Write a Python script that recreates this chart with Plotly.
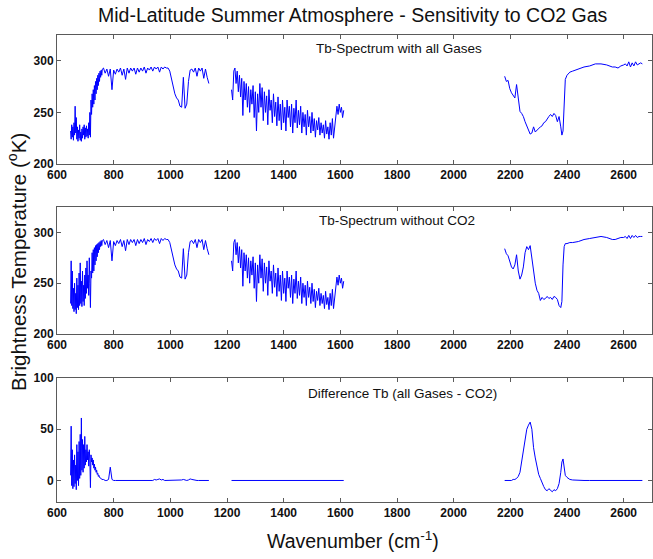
import plotly.graph_objects as go

# ---------------- data ----------------
# segment A : 648 - 1136 cm-1
wn_a = list(range(648, 762, 2)) + list(range(764, 1137, 6))
tb_all_a = [
    232, 224, 238, 226, 236, 223, 240, 228, 256, 230,
    245, 224, 236, 222, 233, 225, 238, 223, 231, 222,
    234, 225, 236, 228, 238, 224, 235, 226, 237, 227,
    234, 225, 240, 228,
    250, 226, 262, 248, 268, 255, 272, 258, 276, 262,
    280, 268, 283, 272, 286, 276, 288, 280, 290, 284,
    291, 286, 292,
    293, 288, 292, 285, 292, 272, 291, 287, 292, 289,
    293, 286, 292, 282, 293, 288, 293, 290, 293, 287,
    293, 289, 293, 290, 294, 288, 293, 291, 294, 290,
    294, 292, 294, 289, 294, 292, 294, 293, 293, 290,
    282, 274, 268, 264, 262, 256, 255, 284, 254, 258,
    280, 291, 292, 289, 293, 285, 293, 290, 293, 283,
    292, 284, 278,
]
tb_noco2_a = [
    230, 272, 228, 262, 225, 245, 222, 250, 224, 240,
    220, 255, 226, 248, 224, 260, 228, 270, 230, 252,
    227, 262, 232, 248, 228, 258, 235, 265, 240, 272,
    245, 258, 238, 275,
    250, 226, 262, 255, 280, 260, 283, 262, 285, 268,
    287, 272, 288, 276, 289, 280, 290, 283, 291, 286,
    292, 287, 292,
    293, 288, 292, 285, 292, 272, 291, 287, 292, 289,
    293, 286, 292, 282, 293, 288, 293, 290, 293, 287,
    293, 289, 293, 290, 294, 288, 293, 291, 294, 290,
    294, 292, 294, 289, 294, 292, 294, 293, 293, 290,
    282, 274, 268, 264, 262, 256, 255, 284, 254, 258,
    280, 291, 292, 289, 293, 285, 293, 290, 293, 283,
    292, 284, 278,
]
diff_a = [
    5, 53, -5, 30, -8, 20, -6, 25, -3, 15,
    -9, 35, 0, 28, -5, 38, 2, 45, 5, 61,
    10, 40, 8, 35, 12, 43, 15, 30, 18, 35,
    20, 28, 14, 30,
    20, -7, 25, 18, 22, 15, 20, 12, 16, 10,
    13, 8, 10, 6, 7, 4, 5, 3, 3, 2,
    2, 1, 1,
    1, 0, 0, 1, 13, 1, 0, 0, 0, 0,
    0, 0, 0, 0, 0, 0, 0, 0, 0, 0,
    0, 0, 0, 0, 0, 0, 0, 0, 0, 0,
    1, 0.5, 1, 1.5, 0.5, 1, 0, 0, 0, 0,
    0, 0, 0, 0, 0, 0, 0.5, 1, 0.5, 0,
    0.5, 1.5, 1, 0.5, 0, 0, 0, 0, 0, 0,
    0, 0, 0,
]

# segment B : 1216 - 1612 cm-1
wn_b = list(range(1216, 1613, 4))
tb_all_b = [
    272, 262, 290, 293, 278, 290, 270, 286, 265, 283,
    247, 280, 262, 278, 255, 275, 250, 272, 258, 276,
    245, 270, 232, 268, 250, 278, 255, 274, 242, 270,
    250, 266, 238, 272, 252, 262, 240, 268, 246, 260,
    237, 265, 242, 258, 233, 262, 240, 255, 232, 262,
    245, 256, 236, 258, 230, 254, 240, 262, 235, 252,
    238, 256, 230, 250, 236, 248, 228, 252, 236, 246,
    230, 250, 232, 244, 226, 242, 233, 245, 228, 240,
    230, 238, 225, 242, 229, 236, 224, 240, 228, 244,
    225, 238, 250, 256, 248, 258, 250, 255, 245, 252,
]
tb_noco2_b = tb_all_b          # identical in the picture
wn_b_diff = [1216, 1612]
diff_b = [0, 0]

# segment C : 2180 - 2666 cm-1
wn_c = [2180, 2186, 2192, 2198, 2204, 2210, 2216, 2222, 2228, 2234,
        2240, 2246, 2252, 2258, 2264, 2270, 2276, 2282, 2288, 2294,
        2300, 2306, 2312, 2318, 2324, 2330, 2336, 2342, 2348, 2354,
        2360, 2366, 2372, 2378, 2382, 2386, 2390, 2394, 2400, 2410,
        2420, 2440, 2460, 2480, 2500, 2520, 2540, 2560, 2570, 2580,
        2590, 2600, 2606, 2612, 2618, 2624, 2630, 2636, 2642, 2648,
        2654, 2660, 2666]
tb_all_c = [285, 280, 281, 273, 269, 266, 264, 277, 262, 251,
            249, 246, 241, 237, 232, 229, 230, 236, 231, 233,
            234, 236, 237, 240, 241, 244, 246, 248, 246, 249,
            247, 241, 246, 236, 228, 232, 262, 282, 286, 289,
            290, 292, 294, 295, 297, 297, 296, 294, 294, 293,
            295, 296, 297, 295, 299, 294, 298, 295, 299, 296,
            297, 298, 297]
tb_noco2_c = [284, 279, 277, 272, 266, 264, 268, 278, 262, 254,
              258, 266, 280, 286, 283, 287, 275, 258, 250, 243,
              240, 233, 236, 234, 235, 237, 235, 236, 234, 237,
              236, 234, 228, 226, 232, 268, 286, 289, 289, 290,
              290, 291, 293, 294, 295, 296, 295, 293, 293, 294,
              295, 295, 296, 294, 297, 294, 297, 295, 297, 295,
              296, 296, 296]
diff_c = [0, 0, 0, 0, 0, 1, 1, 2, 4, 8,
          18, 30, 42, 50, 54, 57, 50, 32, 22, 12,
          6, 2, -3, -6, -9, -10, -8, -10, -11, -9,
          -10, -8, -3, 8, 18, 21, 12, 5, 3, 1,
          0.5, 0, 0, 0, 0, 0, 0, 0, 0, 0,
          0, 0, 0, 0, 0, 0, 0, 0, 0, 0,
          0, 0, 0]

x_ticks = [600, 800, 1000, 1200, 1400, 1600, 1800, 2000, 2200, 2400, 2600]
tb_ticks = [200, 250, 300]
diff_ticks = [0, 50, 100]

title_text = "Mid-Latitude Summer Atmosphere - Sensitivity to CO2 Gas"
panel_labels = ["Tb-Spectrum with all Gases", "Tb-Spectrum without CO2",
                "Difference Tb (all Gases - CO2)"]


def join(*segs):
    out = []
    for i, s in enumerate(segs):
        if i:
            out.append(None)
        out.extend(s)
    return out


BLUE = "#0000ff"
fig = go.Figure()
series = [
    (join(wn_a, wn_b, wn_c), join(tb_all_a, tb_all_b, tb_all_c)),
    (join(wn_a, wn_b, wn_c), join(tb_noco2_a, tb_noco2_b, tb_noco2_c)),
    (join(wn_a, wn_b_diff, wn_c), join(diff_a, diff_b, diff_c)),
]
for i, (xs, ys) in enumerate(series):
    suf = "" if i == 0 else str(i + 1)
    fig.add_trace(go.Scatter(x=xs, y=ys, mode="lines",
                             line=dict(color=BLUE, width=1),
                             connectgaps=False, showlegend=False,
                             xaxis="x" + suf, yaxis="y" + suf))

W, H = 653, 559
L, R = 57, 1
FONT = "Arial, Liberation Sans, Helvetica, sans-serif"
AX = "#5a5a5a"


def fy(px):
    return 1 - px / H


def fx(px):
    return (px - L) / (W - L - R)


domains = [(fy(164), fy(35)), (fy(334), fy(207)), (fy(502), fy(378))]
yranges = [[200, 325], [200, 325], [-21, 100]]
yticks = [tb_ticks, tb_ticks, diff_ticks]

layout = dict(width=W, height=H, margin=dict(l=L, r=R, t=0, b=0),
              paper_bgcolor="white", plot_bgcolor="white",
              font=dict(family=FONT, color="black"))
for i in range(3):
    suf = "" if i == 0 else str(i + 1)
    layout["xaxis" + suf] = dict(
        domain=[0, 1], range=[600, 2700], tickvals=x_ticks,
        ticks="inside", ticklen=4, tickcolor=AX, showline=True,
        linecolor=AX, linewidth=1, mirror="ticks", showgrid=False,
        zeroline=False, anchor="y" + suf, automargin=False,
        tickfont=dict(family=FONT, size=12, color="#111", weight="bold"))
    layout["yaxis" + suf] = dict(
        domain=list(domains[i]), range=yranges[i], tickvals=yticks[i],
        ticks="inside", ticklen=4, tickcolor=AX, showline=True,
        linecolor=AX, linewidth=1, mirror="ticks", showgrid=False,
        zeroline=False, anchor="x" + suf, automargin=False,
        tickfont=dict(family=FONT, size=12, color="#111", weight="bold"))
fig.update_layout(**layout)

ann = [
    dict(text=title_text, x=353, y=15, size=19.5),
    dict(text=panel_labels[0], x=399, y=48, size=13.5),
    dict(text=panel_labels[1], x=397, y=220, size=13.5),
    dict(text=panel_labels[2], x=402, y=393, size=13.5),
    dict(text="Wavenumber (cm<sup>-1</sup>)", x=353, y=540, size=19.5),
]
for a in ann:
    fig.add_annotation(text=a["text"], xref="paper", yref="paper",
                       x=fx(a["x"]), y=fy(a["y"]),
                       xanchor="center", yanchor="middle", showarrow=False,
                       font=dict(family=FONT, size=a["size"], color="#111"))
fig.add_annotation(text="Brightness Temperature (<sup>o</sup>K)",
                   xref="paper", yref="paper",
                   x=fx(17), y=fy(262), textangle=-90,
                   xanchor="center", yanchor="middle", showarrow=False,
                   font=dict(family=FONT, size=20.5, color="#111"))

fig.write_html("out.html",
               config={"displayModeBar": False},
               post_script="document.body.style.margin='0px';"
                           "document.body.style.padding='0px';")
